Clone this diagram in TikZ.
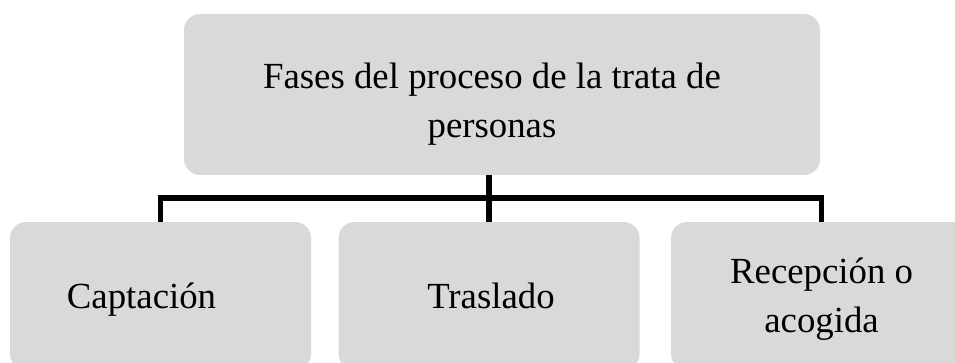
\documentclass[tikz,border=0pt]{standalone}
\usepackage{fontspec}
\setmainfont{Liberation Serif}
\usetikzlibrary{positioning}
\definecolor{boxgray}{HTML}{D9D9D9}
\tikzset{
	phase/.style={fill=boxgray, rounded corners=12pt, minimum width=225.75pt, minimum height=111pt, inner sep=0pt},
	title/.style={phase, minimum width=477pt, minimum height=120.75pt},
	txt/.style={align=center, font=\fontsize{27.6}{37}\selectfont, inner sep=0pt},
	link/.style={line width=4pt, line join=miter, black}}

\begin{document}
\begin{tikzpicture}[x=0.75pt, y=-0.75pt]
		\useasboundingbox (0,0) rectangle (955,363);
		\clip (0,0) rectangle (955,363);
		\node[title] (fases) at (502,94.5) {};
		\node[phase] (capt) at (160.5,296) {};
		\node[phase, right=20.25pt of capt] (tras) {};
		\node[phase, right=23.25pt of tras] (recep) {};

		\node[txt] (fasesT) at ([xshift=-7.5pt, yshift=-7pt]fases.center) {Fases del proceso de la trata de\\personas};
		\node[txt, anchor=base] (captT) at (141.5,308) {Captación};
		\node[txt, anchor=base] (trasT) at (491,308) {Traslado};
		\node[txt] (recepT) at ([yshift=-2.5pt]recep.center) {Recepción o\\acogida};

		\coordinate (bar) at (488,198);
		\draw[link] (capt.north) -- (capt.north |- bar) -- (recep.north |- bar) -- (recep.north);
		\draw[link] (fases.south -| tras.north) -- (tras.north);
	\end{tikzpicture}
\end{document}
